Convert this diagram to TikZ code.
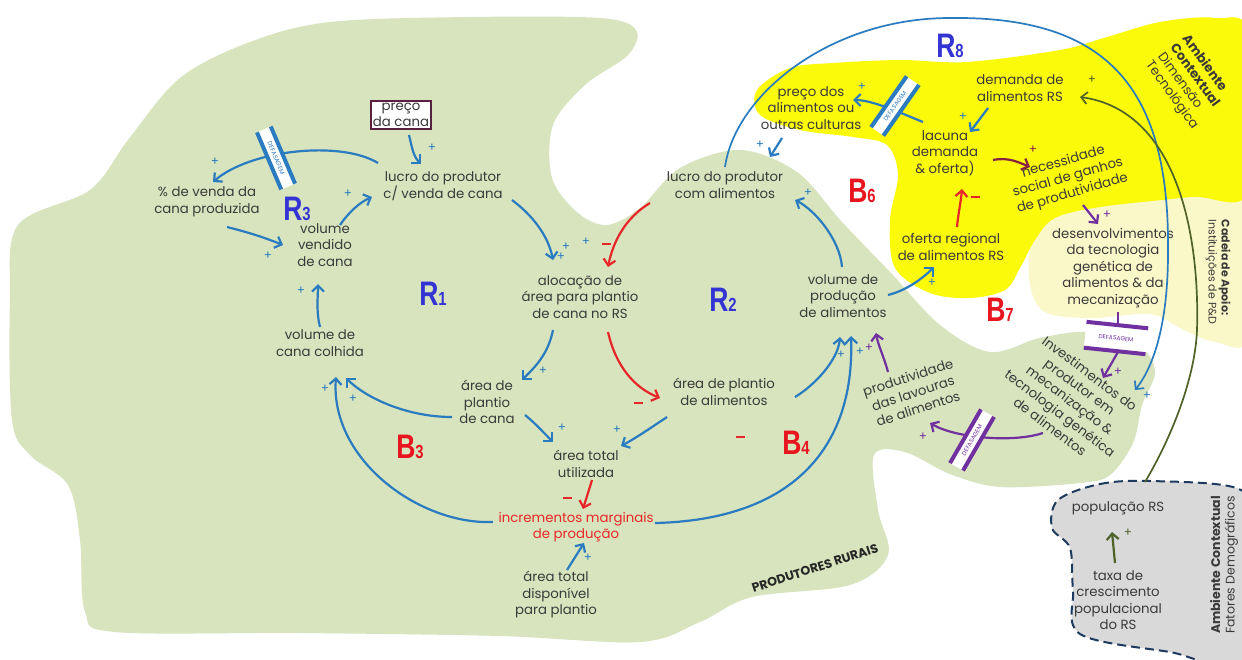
\documentclass[tikz,border=0pt]{standalone}
\usepackage{fontspec}
\setmainfont{Poppins}
\newfontfamily\loopfont{Liberation Sans}
\usetikzlibrary{arrows.meta}
\definecolor{blobgreen}{HTML}{D7E4BD}
\definecolor{techyellow}{HTML}{FAFA0A}
\definecolor{paleyellow}{HTML}{FAF8C8}
\definecolor{demogrey}{HTML}{D9D9D9}
\definecolor{dashblue}{HTML}{1F3A5F}
\definecolor{linkblue}{HTML}{2A7BC0}
\definecolor{linkred}{HTML}{E8262A}
\definecolor{linkpurple}{HTML}{7030A0}
\definecolor{linkmaroon}{HTML}{8B2040}
\definecolor{linkgreen}{HTML}{4F6228}
\definecolor{loopblue}{HTML}{3434D4}
\definecolor{loopred}{HTML}{E8141E}
\definecolor{txt}{HTML}{3A3A3A}
\definecolor{boxedge}{HTML}{5A2040}
\newcommand{\looplbl}[2]{\scalebox{0.78}[1]{#1{\fontsize{19}{19}\selectfont #2}}}
% a delay mark: two thick bars with a white band and the word DEFASAGEM
\newcommand{\lagbar}[5]{%
  \begin{scope}[shift={#2}, rotate=#3]
    \fill[white] (-31,-#5) rectangle (31,#5);
    \draw[#4, line width=4pt] (-31,-#5) -- (31,-#5);
    \draw[#4, line width=4pt] (-31,#5) -- (31,#5);
  \end{scope}
  \node[lagtext, text=#4, rotate=#3] (#1) at #2 {DEFASAGEM};}
\begin{document}
\begin{tikzpicture}[x=1pt, y=-1pt,
  var/.style={align=center, text=txt, font=\fontsize{13.3}{16.5}\selectfont, inner sep=1pt},
  lagtext/.style={font=\fontsize{6}{6}\selectfont, inner sep=0pt},
  sign/.style={font=\fontsize{12}{12}\selectfont, inner sep=0pt},
  plus/.style={sign, text=linkblue},
  minus/.style={inner sep=0pt, text=linkred},
  looplab/.style={font=\loopfont\bfseries\fontsize{34}{34}\selectfont, inner sep=0pt},
  tip/.style={-{Straight Barb[length=6pt,width=12pt]}},
  link/.style={draw=linkblue, line width=2.2pt, tip},
  redlink/.style={draw=linkred, line width=2.2pt, tip},
  purplelink/.style={draw=linkpurple, line width=2.2pt, tip},
  thinlink/.style={line width=1.7pt, tip},
  side/.style={align=left, text=txt, font=\fontsize{12.5}{14.5}\selectfont, inner sep=0pt}]
\useasboundingbox (0,0) rectangle (1242,659);
\fill[white] (0,0) rectangle (1242,659);

% ---------- regions ----------
\fill[blobgreen] plot[smooth cycle, tension=0.55] coordinates {
  (330,22) (470,17) (600,18) (636,30) (628,55) (585,85) (553,125) (552,178)
  (578,213) (607,225) (640,208) (680,168) (740,150) (797,172) (842,222)
  (890,272) (940,325) (990,352) (1040,338) (1090,332) (1140,347) (1155,372)
  (1142,405) (1133,443) (1110,475) (1080,483) (1000,487) (950,474) (905,452)
  (874,455) (878,510) (888,555) (850,585) (752,597) (700,622) (640,642)
  (500,636) (300,633) (115,632) (85,612) (80,540) (68,485) (30,455) (12,420)
  (10,300) (18,225) (90,190) (128,140) (180,78) (250,42)};
\fill[paleyellow] plot[smooth cycle, tension=0.55] coordinates {
  (1032,240) (1060,212) (1120,200) (1190,193) (1250,188) (1250,335)
  (1215,342) (1180,328) (1150,314) (1090,318) (1045,312) (1030,285)};
\fill[techyellow] plot[smooth cycle, tension=0.55] coordinates {
  (760,115) (757,90) (790,68) (833,63) (900,60) (967,62) (1060,50) (1107,37)
  (1160,22) (1215,18) (1250,35) (1250,190) (1190,197) (1100,207) (1055,218)
  (1035,240) (1020,268) (1005,290) (970,298) (930,293) (895,268) (890,220)
  (898,175) (887,145) (853,137) (800,130)};
\filldraw[fill=demogrey, draw=dashblue, line width=2pt, dash pattern=on 9pt off 5pt]
  plot[smooth cycle, tension=0.55] coordinates {
  (1058,500) (1100,484) (1150,481) (1236,488) (1250,520) (1250,662)
  (1170,652) (1080,634) (1073,590) (1070,548) (1052,528)};

% ---------- variables ----------
\node[var, draw=boxedge, line width=1.2pt, fill=white, inner sep=2pt] (preco) at (401,115) {preço\\da cana};
\node[var] (lucroc) at (443,186) {lucro do produtor\\c/ venda de cana};
\node[var] (pvenda) at (207,202) {\% de venda da\\cana produzida};
\node[var] (volv) at (325,245) {volume\\vendido\\de cana};
\node[var] (volcol) at (320,343) {volume de\\cana colhida};
\node[var] (aloc) at (580,297) {alocação de\\área para plantio\\de cana no RS};
\node[var] (lucroa) at (725,185) {lucro do produtor\\com alimentos};
\node[var] (volprod) at (843,296) {volume de\\produção\\de alimentos};
\node[var] (areacana) at (487,402) {área de\\plantio\\de cana};
\node[var] (areatot) at (586,464) {área total\\utilizada};
\node[var, text=linkred] (incr) at (576,527) {incrementos marginais\\de produção};
\node[var] (areadisp) at (556,595) {área total\\disponível\\para plantio};
\node[var] (areaal) at (724,392) {área de plantio\\de alimentos};
\node[var, rotate=18] (produt) at (913,393) {produtividade\\das lavouras\\de alimentos};
\node[var] (oferta) at (951,247) {oferta regional\\de alimentos RS};
\node[var] (lacuna) at (945,153) {lacuna\\demanda\\\& oferta)};
\node[var] (precoal) at (811,108) {preço dos\\alimentos ou\\outras culturas};
\node[var] (demanda) at (1020,88) {demanda de\\alimentos RS};
\node[var, rotate=16] (necess) at (1068,178) {necessidade\\social de ganhos\\de produtividade};
\node[var] (desenv) at (1113,268) {desenvolvimentos\\da tecnologia\\genética de\\alimentos \& da\\mecanização};
\node[var, rotate=-37] (invest) at (1070,400) {Investimentos do\\produtor em\\mecanização \&\\tecnologia genética\\de alimentos};
\node[var] (popul) at (1118,508) {população RS};
\node[var] (taxa) at (1118,600) {taxa de\\crescimento\\populacional\\do RS};

% ---------- side labels ----------
\node[side, rotate=90] (ambdemo) at (1224,565) {\textbf{Ambiente Contextual}\\Fatores Demográficos};
\node[side, rotate=-54, font=\fontsize{13}{15}\selectfont] (ambtec) at (1190,82) {\textbf{Ambiente}\\\textbf{Contextual}\\Dimensão\\Tecnológica};
\node[side, rotate=-90, font=\fontsize{11}{13}\selectfont] (cadeia) at (1218,272) {\textbf{Cadeia de Apoio:}\\Instituições de P\&D};
\node[rotate=18, font=\bfseries\fontsize{12.5}{14}\selectfont, text=black!85, inner sep=0pt] (prod) at (815,568) {PRODUTORES RURAIS};

% ---------- loop labels ----------
\node[looplab, text=loopblue] (R3) at (297,209) {\looplbl{R}{3}};
\node[looplab, text=loopblue] (R1) at (433,294) {\looplbl{R}{1}};
\node[looplab, text=loopblue] (R2) at (723,300) {\looplbl{R}{2}};
\node[looplab, text=loopblue] (R8) at (950,46) {\looplbl{R}{8}};
\node[looplab, text=loopred] (B3) at (410,447) {\looplbl{B}{3}};
\node[looplab, text=loopred] (B4) at (796,443) {\looplbl{B}{4}};
\node[looplab, text=loopred] (B6) at (862,191) {\looplbl{B}{6}};
\node[looplab, text=loopred] (B7) at (1000,310) {\looplbl{B}{7}};

% ---------- links ----------
\draw[link] ([shift={(8,20)}]preco.center) .. controls +(3,12) and +(-8,-8) .. ([shift={(-22,-22)}]lucroc.center);
\draw[link] ([shift={(-65,-23)}]lucroc.center) .. controls +(-38,-23) and +(37,-32) .. ([shift={(6,-20)}]pvenda.center);
\draw[link] ([shift={(20,25)}]pvenda.center) .. controls +(20,5) and +(-20,-8) .. ([shift={(-42,0)}]volv.center);
\draw[link] ([shift={(15,-20)}]volv.center) .. controls +(8,-12) and +(-12,5) .. ([shift={(-71,11)}]lucroc.center);
\draw[link] ([shift={(0,-16)}]volcol.center) .. controls +(-4,-15) and +(0,12) .. ([shift={(-7,39)}]volv.center);
\draw[link] ([shift={(69,14)}]lucroc.center) .. controls +(20,15) and +(-5,-25) .. ([shift={(-27,-37)}]aloc.center);
\draw[redlink] ([shift={(-75,18)}]lucroa.center) .. controls +(-25,15) and +(5,-25) .. ([shift={(28,-30)}]aloc.center);
\draw[link] ([shift={(-27,33)}]aloc.center) .. controls +(-5,25) and +(12,-12) .. ([shift={(35,-22)}]areacana.center);
\draw[redlink] ([shift={(28,35)}]aloc.center) .. controls +(8,35) and +(-25,-10) .. ([shift={(-64,6)}]areaal.center);
\draw[link] ([shift={(38,13)}]areacana.center) .. controls +(10,8) and +(-10,-10) .. ([shift={(-33,-22)}]areatot.center);
\draw[link] ([shift={(-57,25)}]areaal.center) .. controls +(-15,10) and +(15,-8) .. ([shift={(35,-18)}]areatot.center);
\draw[redlink] ([shift={(6,16)}]areatot.center) -- ([shift={(7,-18)}]incr.center);
\draw[link] ([shift={(11,-25)}]areadisp.center) -- ([shift={(8,16)}]incr.center);
\draw[link] ([shift={(-35,15)}]areacana.center) .. controls +(-45,0) and +(20,20) .. ([shift={(26,35)}]volcol.center);
\draw[link] ([shift={(-83,-5)}]incr.center) .. controls +(-73,3) and +(-6,83) .. ([shift={(16,34)}]volcol.center);
\draw[link] ([shift={(79,-4)}]incr.center) .. controls +(135,-3) and +(4,114) .. ([shift={(8,40)}]volprod.center);
\draw[link] ([shift={(71,5)}]areaal.center) .. controls +(20,-12) and +(-2,23) .. ([shift={(-3,41)}]volprod.center);
\draw[purplelink] ([shift={(-25,-21)}]produt.center) .. controls +(-4,-15) and +(2,12) .. ([shift={(33,37)}]volprod.center);
\draw[link] ([shift={(-1,-29)}]volprod.center) .. controls +(-2,-27) and +(20,10) .. ([shift={(70,15)}]lucroa.center);
\draw[link] ([shift={(45,-1)}]volprod.center) .. controls +(20,-5) and +(-10,10) .. ([shift={(-17,20)}]oferta.center);
\draw[redlink] ([shift={(6,-20)}]oferta.center) .. controls +(1,-12) and +(-1,12) .. ([shift={(17,36)}]lacuna.center);
\draw[link] ([shift={(-32,20)}]demanda.center) -- ([shift={(25,-21)}]lacuna.center);
\draw[link] ([shift={(-22,-31)}]lacuna.center) .. controls +(-20,-8) and +(20,0) .. ([shift={(42,-8)}]precoal.center);
\draw[link] ([shift={(-29,30)}]precoal.center) -- ([shift={(45,-28)}]lucroa.center);
\draw[draw=linkmaroon, line width=2.2pt, tip] ([shift={(48,7)}]lacuna.center) .. controls +(15,-3) and +(-12,-5) .. ([shift={(-38,-11)}]necess.center);
\draw[purplelink] ([shift={(15,27)}]necess.center) -- ([shift={(-15,-44)}]desenv.center);
\draw[purplelink] ([shift={(-27,33)}]invest.center) .. controls +(-30,10) and +(25,15) .. ([shift={(17,30)}]produt.center);
\draw[draw=linkgreen, line width=2.2pt, tip] ([shift={(-3,-37)}]taxa.center) -- ([shift={(-6,24)}]popul.center);
% long outer loops
\coordinate (r8top) at (950,18);
\coordinate (r8side) at (1168,253);
\draw[thinlink, draw=linkblue] ([shift={(0,-18)}]lucroa.center) .. controls (735,95) and (830,18) .. (r8top)
  .. controls (1110,16) and (1170,90) .. (r8side) .. controls (1168,320) and (1155,365) .. ([shift={(65,-10)}]invest.center);
\coordinate (popside) at (1197,330);
\draw[thinlink, draw=linkgreen] ([shift={(27,-26)}]popul.center) .. controls (1170,440) and (1195,380) .. (popside)
  .. controls (1200,230) and (1175,110) .. ([shift={(60,9)}]demanda.center);

% ---------- delays ----------
\lagbar{lagA}{(276,158)}{-67}{linkblue}{7.5}
\lagbar{lagB}{(895,106)}{55}{linkblue}{7.5}
\lagbar{lagC}{(972,440)}{60}{linkpurple}{7.5}
\lagbar{lagD}{(1116,338)}{-6}{linkpurple}{13}
\draw[linkpurple, line width=2.2pt] ([shift={(5,44)}]desenv.center) -- ([shift={(2,-13)}]lagD.center);
\draw[purplelink] ([shift={(2,14)}]lagD.center) -- ([shift={(33,-22)}]invest.center);

% ---------- polarities ----------
\node[plus] (p1) at (432,148) {+};
\node[plus] (p2) at (215,162) {+};
\node[plus] (p3) at (268,256) {+};
\node[plus] (p4) at (348,194) {+};
\node[plus] (p5) at (301,291) {+};
\node[plus] (p6) at (566,247) {+};
\node[plus] (p7) at (561,257) {+};
\node[plus] (p8) at (586,242) {+};
\node[plus] (p9) at (543,371) {+};
\node[plus] (p10) at (562,428) {+};
\node[plus] (p11) at (617,430) {+};
\node[plus] (p12) at (588,558) {+};
\node[plus] (p13) at (353,399) {+};
\node[plus] (p14) at (325,389) {+};
\node[plus] (p15) at (860,352) {+};
\node[plus] (p16) at (841,355) {+};
\node[plus] (p17) at (808,193) {+};
\node[plus] (p18) at (932,283) {+};
\node[plus] (p19) at (963,117) {+};
\node[plus] (p20) at (862,87) {+};
\node[plus] (p21) at (760,145) {+};
\node[plus] (p22) at (1147,396) {+};
\node[sign, text=linkpurple] (p23) at (869,348) {+};
\node[sign, text=linkpurple] (p24) at (923,437) {+};
\node[sign, text=linkpurple] (p25) at (1107,215) {+};
\node[sign, text=linkpurple] (p26) at (1118,372) {+};
\node[sign, text=linkmaroon] (p27) at (1033,150) {+};
\node[sign, text=linkgreen] (p28) at (1092,80) {+};
\node[sign, text=linkgreen] (p29) at (1128,533) {+};
\node[minus] (m1) at (606,244) {\rule{9pt}{2.6pt}};
\node[minus] (m2) at (638,403) {\rule{9pt}{2.6pt}};
\node[minus] (m3) at (740,437) {\rule{9pt}{2.6pt}};
\node[minus] (m4) at (567,498) {\rule{9pt}{2.6pt}};
\node[minus] (m5) at (975,197) {\rule{9pt}{2.6pt}};
\end{tikzpicture}
\end{document}
